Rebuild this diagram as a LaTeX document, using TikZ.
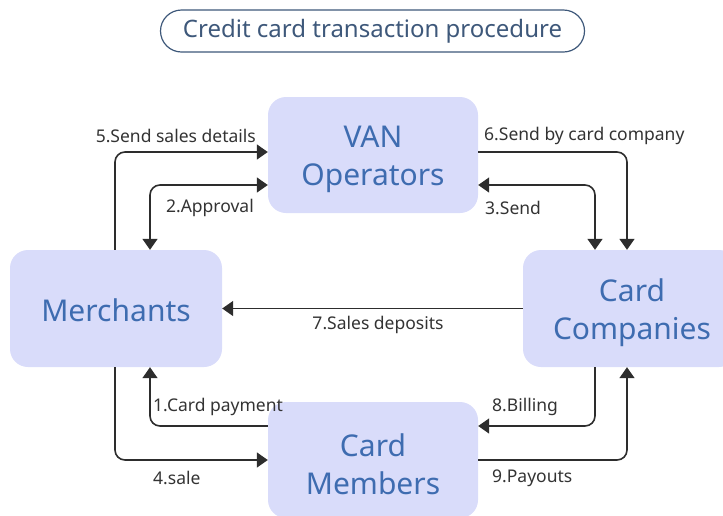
\documentclass[tikz,border=0pt]{standalone}
\usepackage{fontspec}
\setmainfont{Noto Sans}
\usetikzlibrary{arrows.meta}
\definecolor{boxfill}{RGB}{217,220,250}
\definecolor{boxtext}{RGB}{62,108,176}
\definecolor{titlecol}{RGB}{62,88,122}
\definecolor{linecol}{RGB}{45,45,45}
\newcommand{\firstup}{\rule{0pt}{31pt}}
\tikzset{
  boxnode/.style={rounded corners=18pt, fill=boxfill, text=boxtext, align=center,
    minimum width=210pt, minimum height=116pt, inner sep=0pt,
    font=\fontsize{30}{38}\selectfont},
  lbl/.style={font=\fontsize{17.5}{20}\selectfont, text=black!80, inner sep=0pt},
  conn/.style={draw=linecol, line width=1.6pt, rounded corners=10pt,
    -{Triangle[width=15pt,length=11pt]}},
  dconn/.style={conn, {Triangle[width=15pt,length=11pt]}-{Triangle[width=15pt,length=11pt]}}
}
\begin{document}
\begin{tikzpicture}[x=1pt,y=-1pt]
\useasboundingbox (0,0) rectangle (723,515);
\node[draw=titlecol, line width=1.2pt, rounded corners=21pt, minimum width=424pt,
  minimum height=42pt, text=titlecol, font=\fontsize{24}{28}\selectfont] (title) at (372.5,31) {Credit card transaction procedure};
\node[boxnode] (van) at (373,155) {\firstup VAN\\Operators};
\node[boxnode, minimum width=212pt, minimum height=117pt] (m) at (116,308.5) {\rule{0pt}{26pt}Merchants};
\node[boxnode, minimum width=214pt, minimum height=117pt] (cc) at (630,308.5) {\firstup\hspace*{4pt}Card\\\hspace*{4pt}Companies};
\node[boxnode] (cm) at (373,460) {\firstup Card\\Members};
% connectors
\draw[conn] ([xshift=-1pt]m.north) |- ([yshift=3pt]van.west);
\draw[dconn] ([yshift=-30pt]van.west) -| ([xshift=34pt]m.north);
\draw[conn] ([yshift=3pt]van.east) -| ([xshift=-3pt]cc.north);
\draw[dconn] ([yshift=-30pt]van.east) -| ([xshift=-35pt]cc.north);
\draw[conn] (cc.west) -- (m.east);
\draw[conn] ([yshift=34pt]cm.west) -| ([xshift=34pt]m.south);
\draw[conn] ([xshift=-1pt]m.south) |- (cm.west);
\draw[conn] ([xshift=-35pt]cc.south) |- ([yshift=34pt]cm.east);
\draw[conn] (cm.east) -| ([xshift=-3pt]cc.south);
% labels
\node[lbl, anchor=east] (l5) at (256,136) {5.Send sales details};
\node[lbl, anchor=east] (l2) at (254,208) {2.Approval};
\node[lbl, anchor=west] (l6) at (484,136) {6.Send by card company};
\node[lbl, anchor=west] (l3) at (485,208) {3.Send};
\node[lbl] (l7) at (378,325) {7.Sales deposits};
\node[lbl, anchor=west] (l1) at (153,407) {1.Card payment};
\node[lbl, anchor=west] (l4) at (153,478) {4.sale};
\node[lbl, anchor=west] (l8) at (492,407) {8.Billing};
\node[lbl, anchor=west] (l9) at (492,478) {9.Payouts};
\end{tikzpicture}
\end{document}
